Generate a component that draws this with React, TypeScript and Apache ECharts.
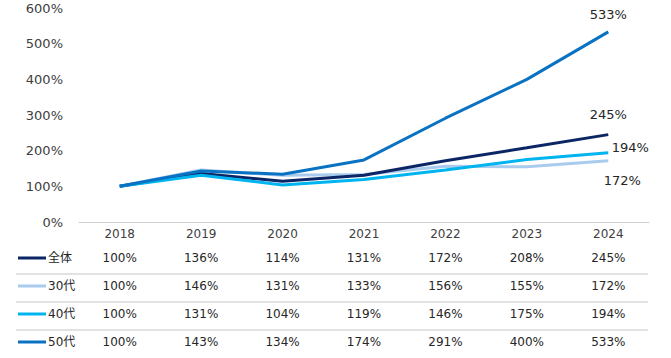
import React, { useEffect, useRef } from "react";
import * as echarts from "echarts";

const years = ["2018", "2019", "2020", "2021", "2022", "2023", "2024"];
const seriesNames = ["全体", "30代", "40代", "50代"];
const zentai = [100, 136, 114, 131, 172, 208, 245];
const age30 = [100, 146, 131, 133, 156, 155, 172];
const age40 = [100, 131, 104, 119, 146, 175, 194];
const age50 = [100, 143, 134, 174, 291, 400, 533];
const yTicks = [0, 100, 200, 300, 400, 500, 600];
const colors = ["#0b2565", "#a9cbee", "#00b4f0", "#0a72c2"];

const FONT = "DejaVu Sans";

export default function App() {
  const ref = useRef<HTMLDivElement>(null);
  useEffect(() => {
    if (!ref.current) return;
    const chart = echarts.init(ref.current, undefined, { renderer: "svg" });
    const allData = [zentai, age30, age40, age50];
    const endOffsets = [
      [0, -20],
      [14, 20],
      [22, -5],
      [0, -17],
    ];
    chart.setOption({
      animation: false,
      textStyle: { fontFamily: FONT },
      grid: { left: 79, right: 22, top: 8, bottom: 136, containLabel: false },
      xAxis: {
        type: "category",
        data: years,
        boundaryGap: true,
        axisLine: { show: true, lineStyle: { color: "#d0d0d0", width: 1 } },
        axisTick: { show: false },
        axisLabel: { color: "#404040", fontSize: 12, margin: 6, fontFamily: FONT },
      },
      yAxis: {
        type: "value",
        min: yTicks[0],
        max: yTicks[yTicks.length - 1],
        interval: 100,
        splitLine: { show: false },
        axisLine: { show: false },
        axisTick: { show: false },
        axisLabel: {
          color: "#404040",
          fontSize: 13,
          margin: 16,
          fontFamily: FONT,
          formatter: (v: number) => v + "%",
        },
      },
      series: allData.map((d, i) => ({
        name: seriesNames[i],
        type: "line",
        data: d,
        showSymbol: false,
        symbol: "none",
        lineStyle: { color: colors[i], width: 3 },
        itemStyle: { color: colors[i] },
        endLabel: {
          show: true,
          distance: 0,
          align: "center",
          verticalAlign: "middle",
          offset: endOffsets[i],
          formatter: (p: any) => p.value + "%",
          color: "#262626",
          fontSize: 13,
          fontFamily: FONT,
        },
        z: i === 1 ? 1 : 2 + i,
      })),
    });

    const graphics: any[] = [];
    const rowTop = 258;
    const rowH = 28;
    seriesNames.forEach((name, i) => {
      const y = rowTop + i * rowH;
      graphics.push({
        type: "line",
        shape: { x1: 18, y1: y, x2: 46, y2: y },
        style: { stroke: colors[i], lineWidth: 3 },
      });
      graphics.push({
        type: "text",
        x: 48,
        y,
        style: {
          text: name,
          fill: "#262626",
          font: `12px "${FONT}", "Noto Sans CJK JP"`,
          textVerticalAlign: "middle",
          textAlign: "left",
        },
      });
      allData[i].forEach((v, j) => {
        const x = chart.convertToPixel({ xAxisIndex: 0 }, years[j]) as number;
        graphics.push({
          type: "text",
          x,
          y,
          style: {
            text: v + "%",
            fill: "#262626",
            font: `12px "${FONT}"`,
            textVerticalAlign: "middle",
            textAlign: "center",
          },
        });
      });
      if (i > 0) {
        const ly = y - rowH / 2 + 2;
        graphics.push({
          type: "line",
          shape: { x1: 16, y1: ly, x2: 648, y2: ly },
          style: { stroke: "#d9d9d9", lineWidth: 1.5 },
        });
      }
    });
    chart.setOption({ graphic: graphics });

    return () => chart.dispose();
  }, []);
  return <div ref={ref} style={{ width: 671, height: 358, position: "absolute", left: 0, top: 0 }} />;
}
